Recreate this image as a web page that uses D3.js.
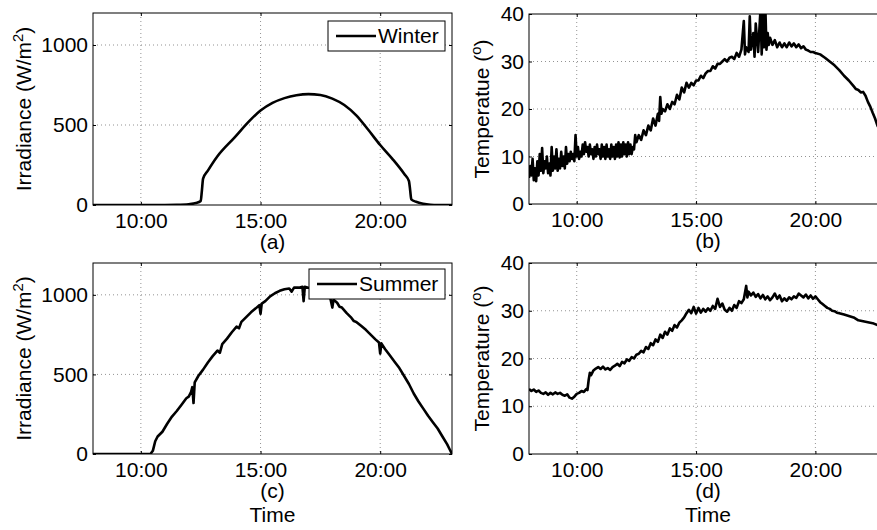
<!DOCTYPE html>
<html>
<head>
<meta charset="utf-8">
<script src="https://cdn.jsdelivr.net/npm/d3@7"></script>
<style>
  body { margin: 0; background: #fff; }
  svg text { font-family: "Liberation Sans", Arial, sans-serif; fill: #000; }
</style>
</head>
<body>
<svg id="chart" width="877" height="530"></svg>
<script>
// hours of the day on the x axis, [hour, value] pairs
const xTicks = [10, 15, 20];
const irrTicks = [0, 500, 1000];
const tempTicks = [0, 10, 20, 30, 40];

const winterIrradiance = [
  [8.0,0],[10.0,0],[11.0,0],[11.5,1],[12.0,5],[12.3,12],[12.5,25],[12.55,90],[12.6,165],
  [12.8,215],[13.2,305],[13.9,420],[14.6,535],[15.0,590],[15.5,638],[16.0,668],[16.5,686],
  [17.0,693],[17.5,688],[18.0,665],[18.5,625],[19.0,560],[19.5,470],[20.0,375],[20.5,290],
  [21.0,195],[21.2,150],[21.25,95],[21.3,35],[21.5,20],[21.8,8],[22.1,2],[22.4,0],[23.0,0]
];

const winterTemp = [
  [8.00,5.5],[8.05,8.0],[8.10,6.0],[8.15,9.5],[8.20,5.0],[8.25,7.5],[8.30,4.8],[8.35,9.0],
  [8.40,6.0],[8.45,10.5],[8.50,7.0],[8.55,11.8],[8.60,6.5],[8.65,9.0],[8.70,7.5],[8.75,10.0],
  [8.80,6.5],[8.85,8.5],[8.90,6.0],[8.95,12.0],[9.00,7.0],[9.05,10.0],[9.10,7.5],[9.15,11.5],
  [9.20,7.0],[9.25,9.5],[9.30,7.5],[9.35,11.0],[9.40,8.0],[9.45,10.0],[9.50,7.5],[9.55,12.0],
  [9.60,8.5],[9.65,10.5],[9.70,9.0],[9.75,11.0],[9.80,9.5],[9.85,10.5],[9.90,9.0],[9.95,14.5],
  [10.00,10.0],[10.05,12.0],[10.10,9.5],[10.15,11.0],[10.20,10.0],[10.25,12.5],[10.30,10.5],
  [10.35,13.0],[10.40,11.0],[10.45,12.0],[10.50,10.0],[10.55,12.5],[10.60,10.5],[10.65,11.5],
  [10.70,9.5],[10.75,12.0],[10.80,10.0],[10.85,12.5],[10.90,10.5],[10.95,11.5],[11.00,9.5],
  [11.05,12.5],[11.10,10.0],[11.15,12.0],[11.20,9.5],[11.25,12.5],[11.30,10.0],[11.35,11.5],
  [11.40,9.5],[11.45,12.5],[11.50,10.0],[11.55,12.0],[11.60,9.5],[11.65,12.5],[11.70,10.0],
  [11.75,13.0],[11.80,9.8],[11.85,12.5],[11.90,10.0],[11.95,13.0],[12.00,10.5],[12.05,12.5],
  [12.10,10.0],[12.15,13.0],[12.20,10.5],[12.25,12.5],[12.30,10.5],[12.35,12.0],[12.40,11.5],
  [12.45,14.5],[12.5,13.0],[12.6,14.5],[12.7,13.5],[12.8,15.5],[12.9,14.5],[13.0,16.5],[13.1,15.5],
  [13.2,18.0],[13.3,16.5],[13.4,19.0],[13.45,17.5],[13.5,22.5],[13.55,19.0],[13.6,20.0],[13.7,19.5],
  [13.8,21.0],[13.9,20.0],[14.0,21.5],[14.1,21.0],[14.2,23.0],[14.3,22.0],[14.4,24.5],[14.5,23.5],
  [14.6,25.5],[14.7,24.5],[14.8,25.5],[14.9,25.0],[15.0,26.0],[15.1,26.0],[15.2,27.0],[15.3,26.5],
  [15.4,27.5],[15.5,28.0],[15.6,28.0],[15.7,29.0],[15.8,28.5],[15.9,29.5],[16.0,29.5],[16.1,30.0],
  [16.2,30.5],[16.3,30.0],[16.4,30.8],[16.5,31.0],[16.6,30.5],[16.7,31.8],[16.8,31.0],[16.9,32.5],
  [17.0,38.5],[17.05,31.5],[17.1,33.0],[17.2,32.0],[17.25,39.5],[17.3,32.5],[17.4,36.0],[17.45,31.0],
  [17.5,38.0],[17.6,32.0],[17.7,41.0],[17.75,31.5],[17.8,41.0],[17.85,33.0],[17.9,42.0],[17.95,32.5],
  [18.0,36.0],[18.05,33.5],[18.1,35.0],[18.2,33.5],[18.3,34.5],[18.4,33.0],[18.5,34.0],[18.6,33.0],
  [18.7,33.8],[18.8,33.0],[18.9,34.0],[19.0,33.2],[19.1,33.8],[19.2,33.0],[19.3,33.6],[19.4,32.8],
  [19.5,33.2],[19.6,32.5],[19.7,32.3],[19.8,32.0],[19.9,32.0],[20.0,31.8],[20.2,31.5],[20.4,30.8],
  [20.6,30.0],[20.8,29.2],[21.0,28.2],[21.2,27.0],[21.4,26.0],[21.6,24.8],[21.7,24.2],[21.8,24.0],
  [21.9,23.5],[22.0,23.6],[22.1,22.8],[22.2,21.5],[22.3,20.5],[22.4,19.2],[22.5,18.0],[22.6,16.5],
  [22.8,14.5],[23.0,13.0]
];

const summerIrradiance = [
  [8.0,0],[9.0,0],[10.0,0],[10.4,0],[10.5,20],[10.6,80],[10.7,110],[10.9,140],[11.1,190],
  [11.3,235],[11.5,270],[11.7,310],[11.9,350],[12.0,360],[12.1,390],[12.15,420],[12.2,320],
  [12.25,450],[12.4,490],[12.6,530],[12.8,575],[13.0,615],[13.2,650],[13.3,635],[13.4,690],
  [13.6,725],[13.8,765],[14.0,800],[14.1,790],[14.2,830],[14.4,860],[14.6,890],[14.8,915],
  [14.95,935],[15.0,880],[15.05,945],[15.2,960],[15.4,990],[15.6,1010],[15.8,1025],[16.0,1035],
  [16.2,1040],[16.3,1020],[16.4,1045],[16.6,1045],[16.75,1050],[16.8,960],[16.85,1050],[17.0,1045],
  [17.3,1040],[17.6,1020],[17.9,990],[18.0,920],[18.05,970],[18.2,950],[18.3,925],[18.4,920],
  [18.6,885],[18.8,855],[18.9,835],[19.0,830],[19.2,805],[19.4,780],[19.6,750],[19.8,720],
  [19.95,700],[20.0,630],[20.05,695],[20.2,660],[20.4,620],[20.6,580],[20.8,540],[21.0,490],
  [21.2,440],[21.4,380],[21.6,330],[21.8,285],[22.0,240],[22.2,200],[22.4,160],[22.6,110],
  [22.8,60],[22.9,30],[23.0,0]
];

const summerTemp = [
  [8.0,13.6],[8.1,13.2],[8.2,13.5],[8.3,13.0],[8.4,13.3],[8.5,12.8],[8.6,12.6],[8.7,12.9],
  [8.8,12.4],[8.9,12.8],[9.0,12.5],[9.1,12.9],[9.2,12.6],[9.3,12.8],[9.4,12.4],[9.5,12.2],
  [9.6,12.5],[9.7,11.8],[9.8,11.6],[9.9,12.0],[10.0,12.6],[10.1,12.8],[10.2,13.2],[10.3,13.0],
  [10.4,13.6],[10.45,13.4],[10.5,15.5],[10.55,17.0],[10.6,16.5],[10.7,17.5],[10.8,17.9],[10.9,18.2],
  [11.0,17.8],[11.1,18.3],[11.2,17.7],[11.3,18.0],[11.4,17.6],[11.5,18.2],[11.6,18.5],[11.7,18.9],
  [11.8,18.4],[11.9,19.3],[12.0,19.0],[12.1,19.8],[12.2,19.5],[12.3,20.3],[12.4,20.0],[12.5,20.8],
  [12.6,21.0],[12.7,21.6],[12.8,21.3],[12.9,22.4],[13.0,22.0],[13.1,23.2],[13.2,22.8],[13.3,24.0],
  [13.4,23.5],[13.5,25.0],[13.6,24.3],[13.7,25.6],[13.8,25.0],[13.9,26.3],[14.0,25.8],[14.1,27.0],
  [14.2,26.5],[14.3,27.5],[14.4,28.0],[14.5,28.6],[14.6,29.5],[14.7,30.2],[14.8,29.5],[14.9,30.8],
  [15.0,29.4],[15.1,30.6],[15.2,29.6],[15.3,30.4],[15.4,29.8],[15.5,30.5],[15.6,30.0],[15.7,31.0],
  [15.8,30.4],[15.9,32.5],[16.0,30.8],[16.1,31.5],[16.2,30.2],[16.3,29.8],[16.4,30.6],[16.5,30.0],
  [16.6,31.2],[16.7,30.6],[16.8,32.0],[16.9,31.6],[17.0,32.4],[17.1,35.2],[17.15,32.8],[17.2,34.0],
  [17.3,33.2],[17.4,33.8],[17.5,32.9],[17.6,33.5],[17.7,32.6],[17.8,33.3],[17.9,32.4],[18.0,33.0],
  [18.1,32.2],[18.2,32.8],[18.3,33.6],[18.4,32.5],[18.5,33.2],[18.6,32.0],[18.7,32.6],[18.8,32.1],
  [18.9,32.8],[19.0,32.4],[19.1,33.0],[19.2,32.7],[19.3,33.6],[19.4,33.2],[19.5,32.8],[19.6,33.4],
  [19.7,32.6],[19.8,33.2],[19.9,32.5],[20.0,33.0],[20.1,32.4],[20.2,31.8],[20.3,31.4],[20.4,31.0],
  [20.5,30.6],[20.6,30.4],[20.7,30.0],[20.8,29.9],[20.9,29.6],[21.0,29.5],[21.2,29.2],[21.4,28.9],
  [21.6,28.6],[21.8,28.0],[22.0,27.8],[22.2,27.6],[22.4,27.4],[22.6,27.0],[22.8,26.8],[23.0,26.6]
];

const svg = d3.select("#chart");
const FONT = 21;
const LINE_W = 2.6;

function drawPanel(p) {
  const x = d3.scaleLinear().domain([8, 23]).range([p.left, p.right]);
  const y = d3.scaleLinear().domain(p.yDomain).range([p.bottom, p.top]);
  const g = svg.append("g");

  // dotted grid
  g.selectAll(".gx").data(xTicks).enter().append("line")
    .attr("x1", d => x(d)).attr("x2", d => x(d))
    .attr("y1", p.top).attr("y2", p.bottom)
    .attr("stroke", "#777").attr("stroke-width", 0.8).attr("stroke-dasharray", "1,3");
  g.selectAll(".gy").data(p.yTicks.filter(d => d > p.yDomain[0] && d < p.yDomain[1])).enter().append("line")
    .attr("x1", p.left).attr("x2", p.right)
    .attr("y1", d => y(d)).attr("y2", d => y(d))
    .attr("stroke", "#777").attr("stroke-width", 0.8).attr("stroke-dasharray", "1,3");

  // data
  const id = "clip" + p.name;
  svg.append("clipPath").attr("id", id).append("rect")
    .attr("x", p.left).attr("y", p.top).attr("width", p.right - p.left).attr("height", p.bottom - p.top);
  const line = d3.line().x(d => x(d[0])).y(d => y(d[1]));
  if (p.smooth) line.curve(d3.curveMonotoneX);
  g.append("path").datum(p.data)
    .attr("clip-path", "url(#" + id + ")")
    .attr("fill", "none").attr("stroke", "#000").attr("stroke-width", LINE_W)
    .attr("stroke-linejoin", "round")
    .attr("d", line);

  // axes with inward ticks
  g.append("g").attr("transform", "translate(0," + p.bottom + ")")
    .call(d3.axisBottom(x).tickValues(xTicks).tickFormat(d => d + ":00").tickSizeInner(-3).tickSizeOuter(0).tickPadding(8));
  g.append("g").attr("transform", "translate(" + p.left + ",0)")
    .call(d3.axisLeft(y).tickValues(p.yTicks).tickFormat(d3.format("d")).tickSizeInner(-3).tickSizeOuter(0).tickPadding(5));
  g.append("g").attr("transform", "translate(0," + p.top + ")")
    .call(d3.axisTop(x).tickValues(xTicks).tickFormat("").tickSizeInner(-3).tickSizeOuter(0));
  g.append("g").attr("transform", "translate(" + p.right + ",0)")
    .call(d3.axisRight(y).tickValues(p.yTicks).tickFormat("").tickSizeInner(-3).tickSizeOuter(0));
  g.selectAll(".domain").remove();
  g.selectAll(".tick line").attr("stroke", "#000");
  g.selectAll(".tick text").attr("font-size", FONT).attr("font-family", null);

  g.append("rect")
    .attr("x", p.left).attr("y", p.top).attr("width", p.right - p.left).attr("height", p.bottom - p.top)
    .attr("fill", "none").attr("stroke", "#000").attr("stroke-width", 1);

  // y label
  const yl = g.append("text")
    .attr("transform", "translate(" + p.ylabelX + "," + ((p.top + p.bottom) / 2) + ") rotate(-90)")
    .attr("text-anchor", "middle").attr("font-size", FONT);
  yl.append("tspan").text(p.ylabel[0]);
  yl.append("tspan").attr("font-size", FONT * 0.7).attr("dy", -8).text(p.ylabel[1]);
  yl.append("tspan").attr("dy", 8).text(p.ylabel[2]);

  // sub label and Time
  const cx = (p.left + p.right) / 2;
  g.append("text").attr("x", cx).attr("y", p.bottom + 44).attr("text-anchor", "middle")
    .attr("font-size", FONT).text(p.sub);
  if (p.time) {
    g.append("text").attr("x", cx).attr("y", p.bottom + 68).attr("text-anchor", "middle")
      .attr("font-size", FONT).text("Time");
  }

  // legend
  if (p.legend) {
    const L = p.legend;
    g.append("rect").attr("x", L.x).attr("y", L.y).attr("width", L.w).attr("height", 30)
      .attr("fill", "#fff").attr("stroke", "#000").attr("stroke-width", 1);
    g.append("line").attr("x1", L.x + 8).attr("x2", L.x + 48).attr("y1", L.y + 15).attr("y2", L.y + 15)
      .attr("stroke", "#000").attr("stroke-width", LINE_W);
    g.append("text").attr("x", L.x + 50).attr("y", L.y + 22).attr("font-size", FONT).text(L.label);
  }
}

drawPanel({ name: "a", left: 93, right: 452, top: 13, bottom: 205, yDomain: [0, 1200], yTicks: irrTicks,
  data: winterIrradiance, smooth: true, ylabel: ["Irradiance (W/m", "2", ")"], ylabelX: 31, sub: "(a)",
  legend: { x: 328, y: 21, w: 117, label: "Winter" } });
drawPanel({ name: "b", left: 529, right: 887, top: 14, bottom: 204, yDomain: [0, 40], yTicks: tempTicks,
  data: winterTemp, ylabel: ["Temperatue (", "o", ")"], ylabelX: 489, sub: "(b)" });
drawPanel({ name: "c", left: 93, right: 452, top: 263, bottom: 454, yDomain: [0, 1200], yTicks: irrTicks,
  data: summerIrradiance, ylabel: ["Irradiance (W/m", "2", ")"], ylabelX: 31, sub: "(c)", time: true,
  legend: { x: 309, y: 269, w: 136, label: "Summer" } });
drawPanel({ name: "d", left: 529, right: 887, top: 263, bottom: 454, yDomain: [0, 40], yTicks: tempTicks,
  data: summerTemp, ylabel: ["Temperature (", "o", ")"], ylabelX: 489, sub: "(d)", time: true });
</script>
</body>
</html>
